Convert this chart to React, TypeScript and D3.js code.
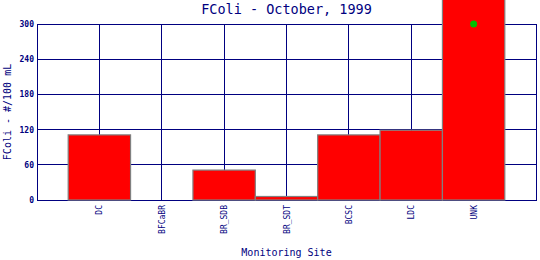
import React from "react";
import * as d3 from "d3";

const sites = ["DC", "BFCaBR", "BR_SDB", "BR_SDT", "BCSC", "LDC", "UNK"];
const fcoliValues = [111, 0, 51, 6, 111, 119, 800];
const offScaleSites = ["UNK"];
const yTicks = [0, 60, 120, 180, 240, 300];

const W = 540;
const H = 260;
const left = 37;
const right = 536;
const top = 24;
const bottom = 200;
const NAVY = "#000080";
const FONT = "'DejaVu Sans Mono', 'Liberation Mono', monospace";

export default function App() {
  const x = d3.scalePoint<string>().domain(sites).range([left, right]).padding(1);
  const bw = x.step();
  const y = d3.scaleLinear().domain([0, 300]).range([bottom, top]);
  const yMax = y.domain()[1];

  return (
    <svg
      width={W}
      height={H}
      style={{ position: "absolute", left: 0, top: 0, background: "#fff" }}
    >
      <rect x={0} y={0} width={W} height={H} fill="#fff" />
      <text x={(left + right) / 2} y={14} textAnchor="middle" fontFamily={FONT} fontSize={13.5} fill={NAVY}>
        FColi - October, 1999
      </text>
      {/* grid */}
      {yTicks.map((t) => (
        <line key={"gy" + t} x1={left} x2={right} y1={y(t)} y2={y(t)} stroke={NAVY} strokeWidth={1} shapeRendering="crispEdges" />
      ))}
      {sites.map((s) => (
        <line key={"gx" + s} x1={x(s)!} x2={x(s)!} y1={top} y2={bottom} stroke={NAVY} strokeWidth={1} shapeRendering="crispEdges" />
      ))}
      <rect x={left} y={top} width={right - left} height={bottom - top} fill="none" stroke={NAVY} strokeWidth={1} shapeRendering="crispEdges" />
      {/* bars */}
      {sites.map((s, i) => {
        const v = fcoliValues[i];
        const yt = y(v);
        return (
          <rect
            key={"b" + s}
            x={x(s)! - bw / 2}
            y={yt}
            width={bw}
            height={Math.max(0, y(0) - yt)}
            fill="#ff0000"
            stroke="#808080"
            strokeWidth={1.2}
          />
        );
      })}
      {sites.map((s, i) =>
        offScaleSites.includes(s) ? (
          <circle key={"m" + s} cx={x(s)!} cy={y(Math.min(fcoliValues[i], yMax))} r={3.5} fill="#00c000" />
        ) : null
      )}
      {/* y tick labels */}
      {yTicks.map((t) => (
        <text key={"ty" + t} x={34} y={y(t) + 3} textAnchor="end" fontFamily={FONT} fontSize={8} fontWeight="bold" fill={NAVY}>
          {t}
        </text>
      ))}
      {/* x tick labels */}
      {sites.map((s) => (
        <text
          key={"tx" + s}
          transform={`translate(${x(s)! + 3},205) rotate(-90)`}
          textAnchor="end"
          fontFamily={FONT}
          fontSize={8}
          fill={NAVY}
        >
          {s}
        </text>
      ))}
      <text
        transform={`translate(11,${(top + bottom) / 2}) rotate(-90)`}
        textAnchor="middle"
        fontFamily={FONT}
        fontSize={10}
        fill={NAVY}
      >
        FColi - #/100 mL
      </text>
      <text x={(left + right) / 2} y={256} textAnchor="middle" fontFamily={FONT} fontSize={10} fill={NAVY}>
        Monitoring Site
      </text>
    </svg>
  );
}
